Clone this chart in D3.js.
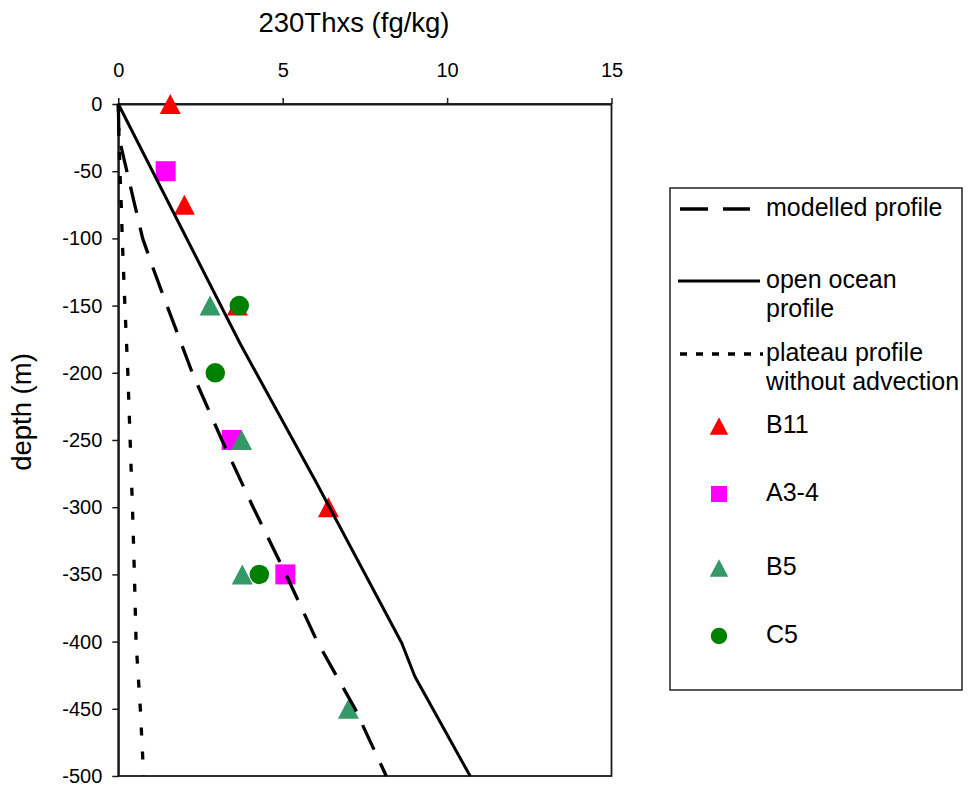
<!DOCTYPE html>
<html>
<head>
<meta charset="utf-8">
<script src="https://cdn.jsdelivr.net/npm/d3@7"></script>
<style>
  html, body { margin: 0; padding: 0; background: #ffffff; }
  svg { display: block; font-family: "Liberation Sans", Arial, sans-serif; }
</style>
</head>
<body>
<svg id="chart" width="969" height="787"></svg>
<script>
// ---- data ----
const xTicks = [0, 5, 10, 15];
const depthTicks = [0, -50, -100, -150, -200, -250, -300, -350, -400, -450, -500];

const modelledDepth = [0, -25, -50, -75, -100, -125, -150, -200, -250, -300, -350, -400, -450, -500];
const modelledValue = [0, 0.02, 0.26, 0.5, 0.74, 1.1, 1.48, 2.25, 3.15, 4.1, 5.1, 6.05, 7.2, 8.15];

const openDepth = [0, -178, -282, -401, -426, -500];
const openValue = [0, 3.70, 6.03, 8.62, 9.02, 10.70];

const plateauDepth = [0, -25, -50, -75, -100, -150, -200, -250, -300, -350, -400, -450, -500];
const plateauValue = [0, 0.02, 0.05, 0.09, 0.12, 0.2, 0.29, 0.36, 0.43, 0.49, 0.54, 0.67, 0.77];

const b11Depth = [0, -75, -150, -300];
const b11Value = [1.58, 2.01, 3.62, 6.39];
const a34Depth = [-50, -250, -350];
const a34Value = [1.44, 3.45, 5.08];
const b5Depth = [-150, -250, -350, -450];
const b5Value = [2.79, 3.75, 3.77, 7.0];
const c5Depth = [-150, -200, -350];
const c5Value = [3.68, 2.95, 4.29];

const xTitle = "230Thxs (fg/kg)";
const yTitle = "depth (m)";

// ---- layout ----
const svg = d3.select("#chart");
svg.append("rect").attr("width", 969).attr("height", 787).attr("fill", "#fff");

const x = d3.scaleLinear().domain([0, 15]).range([118.3, 611.5]);
const y = d3.scaleLinear().domain([0, -500]).range([104, 776]);

// Custom triangle centred on its bounding box
const triType = {
  draw(ctx, size) {
    const r = Math.sqrt(size) / 2;
    ctx.moveTo(0, -r);
    ctx.lineTo(r * 1.05, r);
    ctx.lineTo(-r * 1.05, r);
    ctx.closePath();
  }
};

const series = [
  { name: "B11", depth: b11Depth, value: b11Value, type: triType, size: 400, lsize: 310, color: "#ff0000" },
  { name: "A3-4", depth: a34Depth, value: a34Value, type: d3.symbolSquare, size: 400, lsize: 256, color: "#ff00ff" },
  { name: "B5", depth: b5Depth, value: b5Value, type: triType, size: 400, lsize: 310, color: "#339966" },
  { name: "C5", depth: c5Depth, value: c5Value, type: d3.symbolCircle, size: 300, lsize: 214, color: "#008000" }
];

const lines = [
  { name: "modelled profile", depth: modelledDepth, value: modelledValue, dash: "27,15", ldash: "28,15", width: 3.3 },
  { name: "open ocean profile", depth: openDepth, value: openValue, dash: null, ldash: null, width: 3 },
  { name: "plateau profile without advection", depth: plateauDepth, value: plateauValue, dash: "8,16", ldash: "7,9", width: 3.3 }
];

// plot frame
svg.append("rect")
  .attr("x", x(0)).attr("y", y(0))
  .attr("width", x(15) - x(0)).attr("height", y(-500) - y(0))
  .attr("fill", "none").attr("stroke", "#1a1a1a").attr("stroke-width", 1.8);

// axes
const gx = svg.append("g").attr("transform", `translate(0,${y(0)})`)
  .call(d3.axisTop(x).tickValues(xTicks).tickSize(6).tickSizeOuter(0).tickPadding(21).tickFormat(d3.format("d")));
const gy = svg.append("g").attr("transform", `translate(${x(0)},0)`)
  .call(d3.axisLeft(y).tickValues(depthTicks).tickSize(6).tickSizeOuter(0).tickPadding(10).tickFormat(d3.format("d")));
[gx, gy].forEach(g => {
  g.selectAll("path.domain").attr("stroke", "#1a1a1a").attr("stroke-width", 2);
  g.selectAll(".tick line").attr("stroke", "#1a1a1a").attr("stroke-width", 1.5);
  g.selectAll(".tick text").attr("font-size", 20).attr("fill", "#000")
    .attr("font-family", "'Liberation Sans', Arial, sans-serif");
});
gy.selectAll(".tick text").text(d => String(d));

// titles
svg.append("text").attr("x", 354).attr("y", 32).attr("text-anchor", "middle")
  .attr("font-size", 27.5).attr("fill", "#000").text(xTitle);
svg.append("text").attr("transform", "translate(31,412) rotate(-90)").attr("text-anchor", "middle")
  .attr("font-size", 27.5).attr("fill", "#000").text(yTitle);

// markers (drawn below lines)
const sym = d3.symbol();
series.forEach(s => {
  svg.append("g").selectAll("path")
    .data(s.depth.map((d, i) => ({ d, v: s.value[i] })))
    .join("path")
    .attr("transform", p => `translate(${x(p.v)},${y(p.d)})`)
    .attr("d", sym.type(s.type).size(s.size)())
    .attr("fill", s.color);
});

// profile lines
const lineGen = d3.line().x(p => x(p.v)).y(p => y(p.d));
lines.forEach(l => {
  svg.append("path")
    .datum(l.depth.map((d, i) => ({ d, v: l.value[i] })))
    .attr("d", lineGen)
    .attr("fill", "none").attr("stroke", "#000")
    .attr("stroke-width", l.width)
    .attr("stroke-dasharray", l.dash)
    .attr("stroke-linejoin", "round");
});

// legend
const lg = svg.append("g");
lg.append("rect").attr("x", 670).attr("y", 188).attr("width", 292).attr("height", 502)
  .attr("fill", "#fff").attr("stroke", "#222").attr("stroke-width", 1.5);

const lineLegend = [
  { li: 0, y: 209, x1: 680, x2: 750, text: ["modelled profile"], ty: 216 },
  { li: 1, y: 281, x1: 678, x2: 760, text: ["open ocean", "profile"], ty: 288 },
  { li: 2, y: 354, x1: 680, x2: 763, text: ["plateau profile", "without advection"], ty: 361 }
];
lineLegend.forEach(e => {
  const l = lines[e.li];
  lg.append("line").attr("x1", e.x1).attr("x2", e.x2).attr("y1", e.y).attr("y2", e.y)
    .attr("stroke", "#000").attr("stroke-width", l.width).attr("stroke-dasharray", l.ldash);
  e.text.forEach((t, k) => {
    lg.append("text").attr("x", 766).attr("y", e.ty + k * 29).attr("font-size", 25).attr("fill", "#000").text(t);
  });
});

const markerLegendY = [426, 494, 568, 636];
series.forEach((s, i) => {
  lg.append("path")
    .attr("transform", `translate(719,${markerLegendY[i]})`)
    .attr("d", sym.type(s.type).size(s.lsize)())
    .attr("fill", s.color);
  lg.append("text").attr("x", 766).attr("y", markerLegendY[i] + 7).attr("font-size", 25).attr("fill", "#000").text(s.name);
});
</script>
</body>
</html>
